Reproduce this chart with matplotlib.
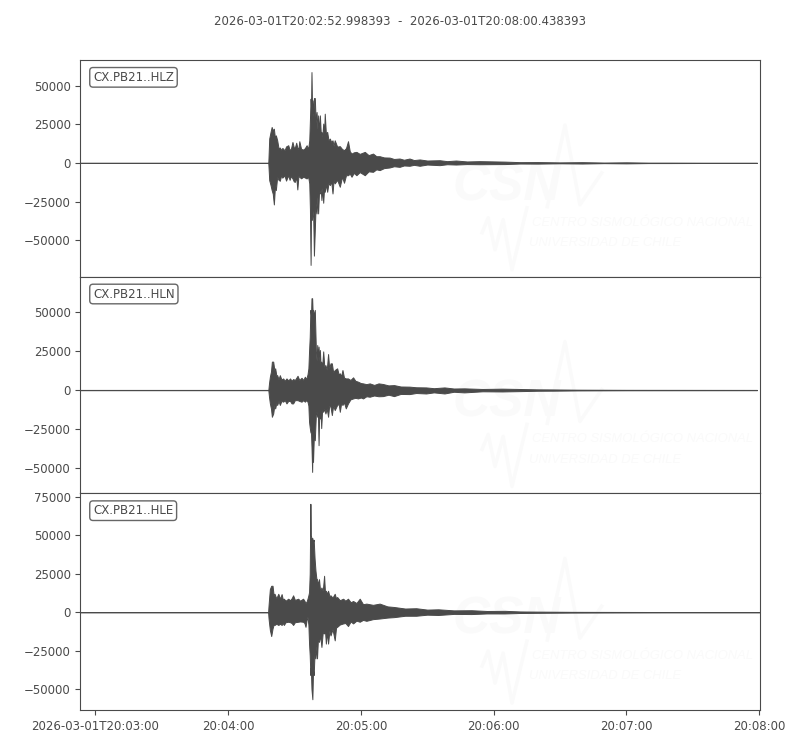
import matplotlib
matplotlib.use("Agg")
import matplotlib.pyplot as plt

title = "2026-03-01T20:02:52.998393  -  2026-03-01T20:08:00.438393"
tick_seconds = [0, 60, 120, 180, 240, 300]
tick_labels = ["2026-03-01T20:03:00", "20:04:00", "20:05:00", "20:06:00", "20:07:00", "20:08:00"]

# seconds after 20:03:00, envelope of each trace
hlz_t = [-7, 78, 78.2, 78.6, 79.2, 79.7, 80.2, 80.7, 81.2, 81.6,
         82.2, 82.8, 83.4, 84.0, 84.5, 84.9, 85.5, 86.2, 87.2, 87.8,
         88.4, 89.1, 89.7, 90.2, 90.8, 91.3, 91.8, 92.2, 93.0, 94.0,
         94.7, 95.5, 96.2, 96.7, 97.0, 97.3, 97.5, 97.7, 98.0, 98.2,
         98.5, 98.8, 99.2, 99.6, 100.0, 100.4, 100.7, 101.1, 101.5, 101.9,
         102.2, 102.6, 103.0, 103.4, 103.7, 104.2, 104.8, 105.4, 106.0, 106.6,
         107.2, 107.7, 108.2, 109.3, 110.5, 111.5, 112.4, 113.3, 114.2, 115,
         115.8, 116.8, 118, 119.5, 121.8, 123.5, 125.5, 127, 128.5, 130.5,
         133, 135, 137.5, 139.5, 142, 144, 146.6, 150, 155.6, 159,
         163, 168, 173.6, 185, 192, 200, 210, 220, 230, 240,
         250, 260, 275, 299]
hlz_up = [100, 100, 500, 15700, 20000, 23200, 21000, 22100, 16000, 17800,
          14600, 9500, 9900, 8300, 9600, 9200, 8000, 10600, 11400, 8500,
          9000, 13500, 10000, 9900, 13000, 9900, 9000, 14000, 9000, 8600,
          9500, 11400, 9000, 14600, 28000, 41500, 36000, 58700, 32000, 40400,
          30000, 41900, 41900, 26000, 32900, 22000, 30700, 20000, 30700, 19000,
          20000, 17000, 25400, 19000, 31800, 19000, 20000, 14500, 15700, 13500,
          14600, 11000, 14600, 10500, 10800, 9000, 8200, 9500, 14000, 7500,
          6000, 6800, 7100, 5800, 7100, 5000, 6000, 4300, 4300, 3500,
          3400, 2500, 2800, 2000, 2800, 1800, 2200, 1500, 1700, 1100,
          1500, 900, 1100, 800, 450, 500, 300, 450, 200, 350,
          150, 150, 100, 100]
hlz_low = [-100, -100, -500, -11200, -14400, -17600, -20000, -26900, -15000, -17600,
           -9000, -11000, -11600, -8000, -9600, -9000, -8200, -11500, -8000, -11000,
           -8500, -10100, -12000, -12300, -9000, -17200, -8500, -9000, -10000, -9000,
           -9500, -10100, -9000, -13300, -30000, -66000, -30000, -37000, -28000, -31600,
           -36000, -60000, -43400, -26000, -32700, -22000, -32700, -19000, -19800, -17000,
           -24100, -16000, -25800, -16000, -18700, -14000, -18700, -13000, -14400, -12000,
           -19800, -11000, -13300, -11000, -15500, -9000, -12900, -8000, -8000, -7000,
           -9000, -6500, -8000, -6000, -8000, -5500, -5800, -4200, -4700, -3400,
           -3000, -2200, -2600, -1700, -1900, -1300, -1900, -1100, -1500, -900,
           -1100, -800, -900, -800, -450, -500, -300, -450, -200, -350,
           -150, -150, -100, -100]

hln_t = [-7, 78.2, 78.5, 78.9, 79.4, 79.8, 80.4, 80.9, 81.3, 81.8,
         82.2, 82.8, 83.4, 84.1, 84.9, 85.6, 86.4, 87.2, 88, 88.7,
         89.4, 90.2, 91.4, 92.2, 93.2, 94, 94.7, 95.3, 95.9, 96.3,
         96.6, 96.9, 97.2, 97.5, 97.7, 98, 98.2, 98.4, 98.8, 99.2,
         99.7, 100, 100.3, 100.6, 100.9, 101.2, 101.5, 101.8, 102.1, 102.5,
         103, 103.5, 104, 104.6, 105.2, 105.7, 106.3, 106.9, 107.5, 108.2,
         109.3, 110, 110.5, 111.1, 111.7, 112.4, 113.2, 114.2, 115.3, 116.5,
         117.5, 118.7, 120, 121, 122.5, 124, 126, 128, 130, 132.5,
         135, 138, 142, 145, 149.5, 153, 157.8, 162, 166.8, 175,
         184, 191.6, 200, 207, 218, 229, 240, 299]
hln_up = [100, 100, 4300, 8600, 12000, 18300, 18300, 13000, 14000, 9500,
          9600, 7000, 9600, 6800, 7500, 6000, 7500, 6200, 7500, 6000,
          7100, 6500, 9200, 6500, 7900, 6500, 8600, 7000, 10100, 14000,
          24900, 34000, 51600, 48000, 59100, 59100, 51000, 51600, 48000, 51600,
          24900, 19000, 29000, 20000, 28000, 19000, 25800, 16000, 18300, 15000,
          24900, 15000, 16100, 13000, 23200, 14000, 17200, 17200, 11500, 12900,
          14000, 10000, 10800, 9000, 12900, 8000, 7500, 7500, 6500, 8200,
          6000, 5400, 4500, 4300, 3800, 4300, 3300, 4300, 3900, 3000,
          3200, 2300, 2200, 1800, 1700, 1200, 1700, 1000, 1100, 700,
          900, 700, 450, 400, 250, 200, 150, 100]
hln_low = [-100, -100, -4300, -8600, -12000, -17200, -15100, -10000, -11800, -8500,
           -9600, -7000, -9600, -7000, -7500, -6500, -8600, -7000, -7000, -8600,
           -8600, -6500, -6500, -7000, -7500, -6500, -7500, -6500, -7500, -10000,
           -20400, -24000, -26900, -28000, -36500, -52700, -30000, -46200, -28000, -32300,
           -15100, -14000, -17200, -15000, -35500, -15000, -18300, -14000, -24500, -13000,
           -14000, -12000, -15100, -12000, -17200, -10000, -10800, -16100, -10000, -12900,
           -9600, -9000, -14000, -8500, -9600, -8000, -11800, -8600, -6000, -5400,
           -5000, -5400, -4800, -5400, -4000, -4300, -3500, -4000, -3900, -3000,
           -3900, -2500, -2600, -1900, -2200, -1500, -2200, -1100, -1500, -800,
           -900, -700, -450, -400, -250, -200, -150, -100]

hle_t = [-7, 78.1, 78.3, 78.6, 78.9, 79.5, 80.1, 80.6, 81, 81.8,
         82.7, 83.5, 84.2, 84.8, 85.2, 86, 87.2, 88, 88.7, 89.4,
         90.2, 91.7, 92.5, 93.9, 94.5, 95, 95.5, 95.9, 96.3, 96.6,
         96.9, 97.2, 97.4, 97.7, 98.1, 98.4, 98.7, 99.1, 99.5, 99.9,
         100.2, 100.6, 101.1, 101.6, 102.2, 102.8, 103.4, 103.8, 104.2, 104.7,
         105.2, 105.8, 106.3, 107.2, 108.2, 108.8, 109.3, 110.5, 112, 113,
         114.2, 115.4, 116.5, 118, 119.5, 121, 122.5, 125.5, 128.5, 132,
         135, 140, 145, 150, 155, 162, 170, 177, 185, 192,
         200, 215, 230, 250, 275, 300.5]
hle_up = [100, 100, 4500, 10000, 15100, 17200, 17200, 11000, 12000, 9000,
          12000, 8800, 11800, 8000, 8800, 7500, 8800, 7800, 9000, 11000,
          8000, 8800, 7500, 8800, 7500, 6000, 7000, 8800, 11000, 13000,
          25000, 70500, 50000, 48200, 48200, 46000, 47100, 35000, 27100, 22000,
          21500, 18000, 21500, 14000, 16100, 14000, 23700, 13000, 14000, 12000,
          14000, 10500, 11000, 9500, 12000, 9000, 9900, 7800, 8800, 7500,
          8800, 6500, 7300, 6000, 8800, 5200, 5600, 4800, 5600, 3800,
          3400, 2400, 2600, 1700, 1900, 1200, 1300, 800, 900, 500,
          400, 250, 200, 150, 100, 100]
hle_low = [-100, -100, -4100, -8000, -11600, -15500, -10600, -8000, -8300, -7500,
           -8300, -7500, -8300, -7000, -8300, -6500, -6200, -6500, -7000, -8300,
           -6500, -6200, -6000, -6200, -7000, -9500, -5000, -3000, -8000, -20400,
           -28000, -40800, -36000, -50200, -56600, -38000, -40800, -26000, -30000, -22000,
           -30000, -18000, -19300, -15000, -22600, -13000, -13800, -12000, -20400, -13000,
           -20400, -12000, -15100, -11000, -18300, -10000, -9500, -8000, -7300, -7000,
           -9000, -6000, -7300, -5500, -6200, -5000, -5600, -4500, -4100, -3500,
           -3200, -2300, -2300, -1600, -1800, -1100, -1200, -800, -800, -500,
           -400, -250, -200, -150, -100, -100]

channels = ["CX.PB21..HLZ", "CX.PB21..HLN", "CX.PB21..HLE"]
times = [hlz_t, hln_t, hle_t]
uppers = [hlz_up, hln_up, hle_up]
lowers = [hlz_low, hln_low, hle_low]
ylims = [(-73600, 66500), (-66500, 73000), (-63600, 77300)]
yticks = [[-50000, -25000, 0, 25000, 50000],
          [-50000, -25000, 0, 25000, 50000],
          [-50000, -25000, 0, 25000, 50000, 75000]]

GREY = "#4a4a4a"
FAINT = "#fafafa"

plt.rcParams["font.size"] = 8.5
plt.rcParams["axes.edgecolor"] = GREY
plt.rcParams["xtick.color"] = GREY
plt.rcParams["ytick.color"] = GREY

fig, axes = plt.subplots(3, 1, figsize=(8, 7.5), dpi=100, sharex=True)
fig.subplots_adjust(left=0.1006, right=0.95, top=0.92, bottom=0.0533, hspace=0)

for i, ax in enumerate(axes):
    ax.fill_between(times[i], lowers[i], uppers[i], color=GREY, lw=0.7)
    ax.set_ylim(*ylims[i])
    ax.set_yticks(yticks[i])
    ax.set_xlim(-6.7, 300.4)
    ax.set_xticks(tick_seconds)
    ax.set_xticklabels(tick_labels)
    ax.tick_params(labelcolor=GREY, width=0.8, length=3.5)
    ax.text(0.0185, 0.92, channels[i], transform=ax.transAxes, color=GREY, va="center", ha="left",
            bbox=dict(boxstyle="round,pad=0.28", fc="white", ec="#666666", lw=1))

    # faint logo behind the trace
    ax.text(0.628, 0.415, "CSN", transform=ax.transAxes, family="Liberation Sans", fontsize=37,
            fontweight="bold", style="italic", color=FAINT, ha="center", va="center", zorder=0)
    ax.plot([0.687, 0.713, 0.735, 0.767], [0.323, 0.70, 0.332, 0.479], transform=ax.transAxes,
            color=FAINT, lw=2.5, zorder=0)
    ax.plot([0.591, 0.600, 0.610, 0.622, 0.635, 0.657], [0.203, 0.272, 0.124, 0.263, 0.032, 0.318],
            transform=ax.transAxes, color=FAINT, lw=2.5, zorder=0)
    ax.text(0.665, 0.25, "CENTRO SISMOLÓGICO NACIONAL", transform=ax.transAxes, family="Liberation Sans",
            fontsize=9.4, style="italic", color=FAINT, ha="left", va="center", zorder=0)
    ax.text(0.66, 0.155, "UNIVERSIDAD DE CHILE", transform=ax.transAxes, family="Liberation Sans",
            fontsize=9.4, style="italic", color=FAINT, ha="left", va="center", zorder=0)

fig.suptitle(title, x=0.5, y=0.98, fontsize=8.45, color=GREY)
fig.savefig("out.png", dpi=100)
